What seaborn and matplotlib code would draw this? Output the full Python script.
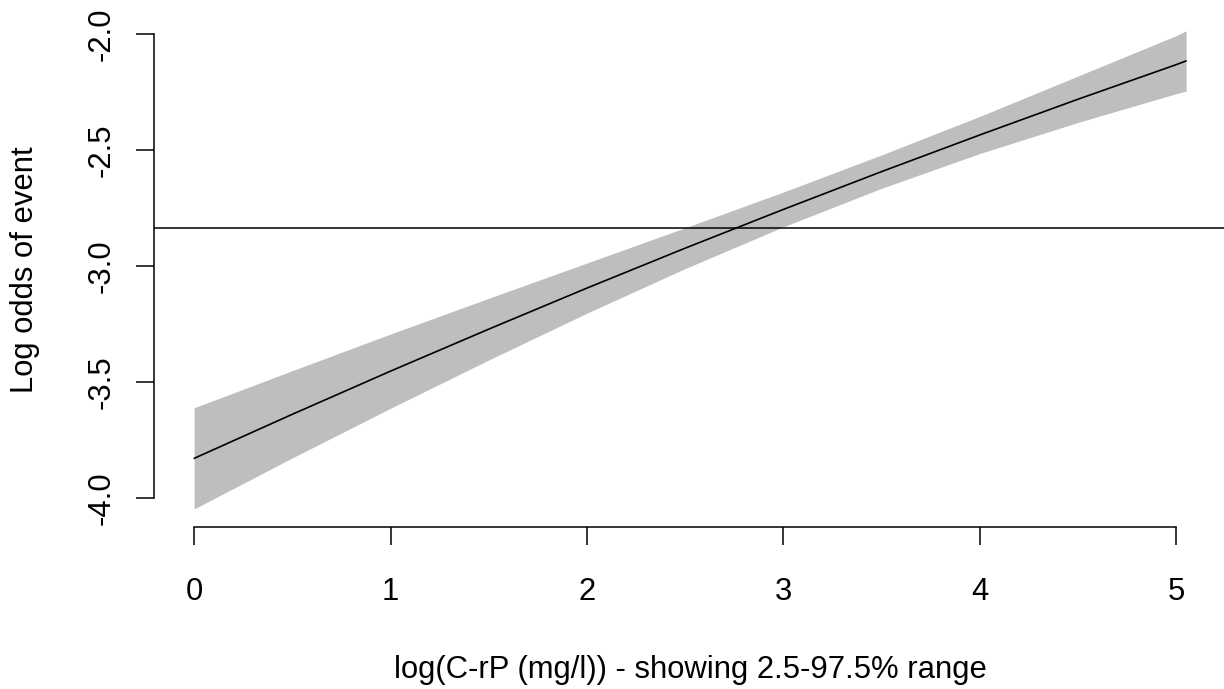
import numpy as np
import pandas as pd
import seaborn as sns
import matplotlib
matplotlib.use("Agg")
import matplotlib.pyplot as plt

# values (log C-rP on x, log odds on y)
crp = [0, 0.5, 1, 1.5, 2, 2.5, 3, 3.5, 4, 4.5, 5, 5.05]
fit = [-3.828, -3.638, -3.452, -3.271, -3.094, -2.922, -2.755, -2.592, -2.434, -2.280, -2.131, -2.115]
upper = [-3.610, -3.450, -3.292, -3.138, -2.986, -2.834, -2.680, -2.520, -2.354, -2.180, -2.006, -1.985]
lower = [-4.046, -3.826, -3.612, -3.404, -3.202, -3.010, -2.830, -2.664, -2.514, -2.380, -2.256, -2.245]
ref_line = -2.834

xticks = [0, 1, 2, 3, 4, 5]
xtick_labels = ["0", "1", "2", "3", "4", "5"]
yticks = [-4.0, -3.5, -3.0, -2.5, -2.0]
ytick_labels = ["-4.0", "-3.5", "-3.0", "-2.5", "-2.0"]

df = pd.DataFrame({"crp": crp, "fit": fit, "upper": upper, "lower": lower})

sns.set_theme(style="ticks")
plt.rcParams["font.family"] = ["Liberation Sans", "DejaVu Sans"]
fs = 22.3

fig = plt.figure(figsize=(12.24, 6.89), dpi=100)
ax = fig.add_axes([0.1262, 0.2344, 0.8757, 0.7472])

ax.fill_between(df["crp"], df["lower"], df["upper"], color="#bebebe", linewidth=0)
sns.lineplot(data=df, x="crp", y="fit", color="black", linewidth=1.2, ax=ax)
ax.axhline(ref_line, color="black", linewidth=1.1)

ax.set_xlim(-0.202, 5.255)
ax.set_ylim(-4.126, -1.907)

for s in ["top", "right"]:
    ax.spines[s].set_visible(False)
ax.spines["left"].set_bounds(-4, -2)
ax.spines["bottom"].set_bounds(0, 5)
for s in ["left", "bottom"]:
    ax.spines[s].set_linewidth(1.1)
    ax.spines[s].set_color("black")

ax.set_xticks(xticks)
ax.set_xticklabels(xtick_labels)
ax.set_yticks(yticks)
ax.set_yticklabels(ytick_labels, rotation=90, va="center")
ax.tick_params(axis="both", length=13, width=1.1, color="black", labelsize=fs, labelcolor="black")
ax.tick_params(axis="x", pad=23)
ax.tick_params(axis="y", pad=14)

ax.set_xlabel("log(C-rP (mg/l)) - showing 2.5-97.5% range", fontsize=fs, labelpad=34, color="black")
ax.set_ylabel("Log odds of event", fontsize=fs, labelpad=34, color="black")

fig.savefig("out.png", dpi=100)
